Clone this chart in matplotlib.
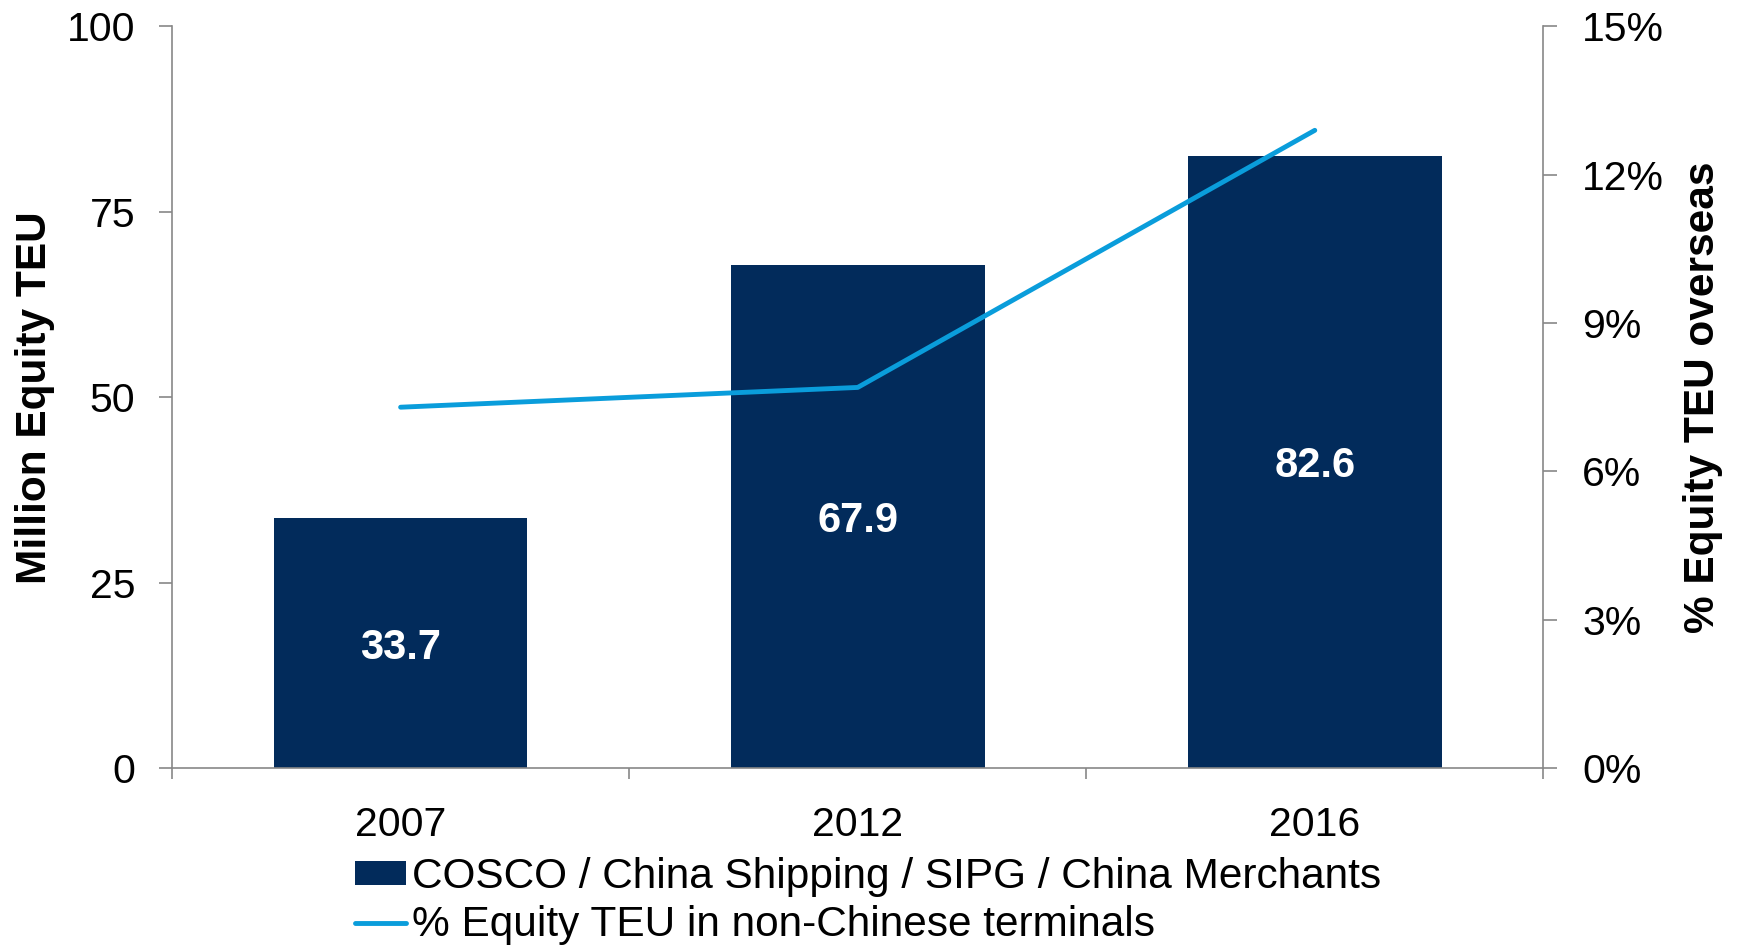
import matplotlib
matplotlib.use("Agg")
import matplotlib.pyplot as plt
from matplotlib.ticker import FuncFormatter, FixedLocator

plt.rcParams['font.family'] = ['Liberation Sans', 'DejaVu Sans']

# Data
years = ["2007", "2012", "2016"]
equity_teu = [33.7, 67.9, 82.6]          # million equity TEU
overseas_share = [0.073, 0.077, 0.129]   # share of equity TEU in non-Chinese terminals

bar_label = "COSCO / China Shipping / SIPG / China Merchants"
line_label = "% Equity TEU in non-Chinese terminals"

navy = "#022B5B"
blue = "#0A9DDB"
axis_grey = "#878787"

fig = plt.figure(figsize=(17.38, 9.46), dpi=100)
ax = fig.add_axes([0.099, 0.188, 0.789, 0.784])
ax2 = ax.twinx()

x = list(range(len(years)))
bars = ax.bar(x, equity_teu, width=0.555, color=navy, label=bar_label, zorder=2)
for xi, v in zip(x, equity_teu):
    ax.text(xi, v / 2, f"{v:.1f}", color="white", fontsize=30, fontweight="bold",
            ha="center", va="center_baseline", zorder=3)

line, = ax2.plot(x, overseas_share, color=blue, lw=3.5, label=line_label,
                 solid_capstyle="round", zorder=4)

# Left axis
ax.set_xlim(-0.5, 2.5)
ax.set_ylim(0, 100)
ax.set_yticks([0, 25, 50, 75, 100])
ax.tick_params(axis="y", which="major", length=9.5, width=1.2, color=axis_grey,
               labelsize=29.5, pad=17)
ax.set_ylabel("Million Equity TEU", fontsize=30.5, fontweight="bold")
ax.yaxis.set_label_coords(-0.0853, 0.5)

# Category axis: ticks on the boundaries, labels centred under bars
ax.xaxis.set_major_locator(FixedLocator([-0.5, 0.5, 1.5, 2.5]))
ax.xaxis.set_minor_locator(FixedLocator(x))
ax.set_xticklabels([], minor=False)
ax.set_xticklabels(years, minor=True)
ax.tick_params(axis="x", which="major", length=8, width=1.2, color=axis_grey, direction="out")
ax.tick_params(axis="x", which="minor", length=0, labelsize=29.5, pad=27)

for side in ("top", "right"):
    ax.spines[side].set_visible(False)
for side in ("left", "bottom"):
    ax.spines[side].set_color(axis_grey)
    ax.spines[side].set_linewidth(1.2)

# Right axis
ax2.set_ylim(0, 0.15)
ax2.set_yticks([0, 0.03, 0.06, 0.09, 0.12, 0.15])
ax2.yaxis.set_major_formatter(FuncFormatter(lambda v, _: f"{round(v * 100):d}%"))
ax2.tick_params(axis="y", length=10, width=1.2, color=axis_grey, labelsize=29.5, pad=18)
ax2.set_ylabel("% Equity TEU overseas", fontsize=30.5, fontweight="bold")
ax2.yaxis.set_label_position("right")
ax2.yaxis.set_label_coords(1.102, 0.5)
for side in ("top", "left", "bottom"):
    ax2.spines[side].set_visible(False)
ax2.spines["right"].set_color(axis_grey)
ax2.spines["right"].set_linewidth(1.2)

# Legend below the axis
fig.legend([bars, line], [bar_label, line_label], loc="upper left",
           bbox_to_anchor=(355 / 1738, 1 - 857 / 946), frameon=False,
           fontsize=30.5, handlelength=1.2, handleheight=0.5, handletextpad=0.15,
           labelspacing=0.2, borderpad=0, borderaxespad=0)

fig.savefig("out.png", dpi=100)
